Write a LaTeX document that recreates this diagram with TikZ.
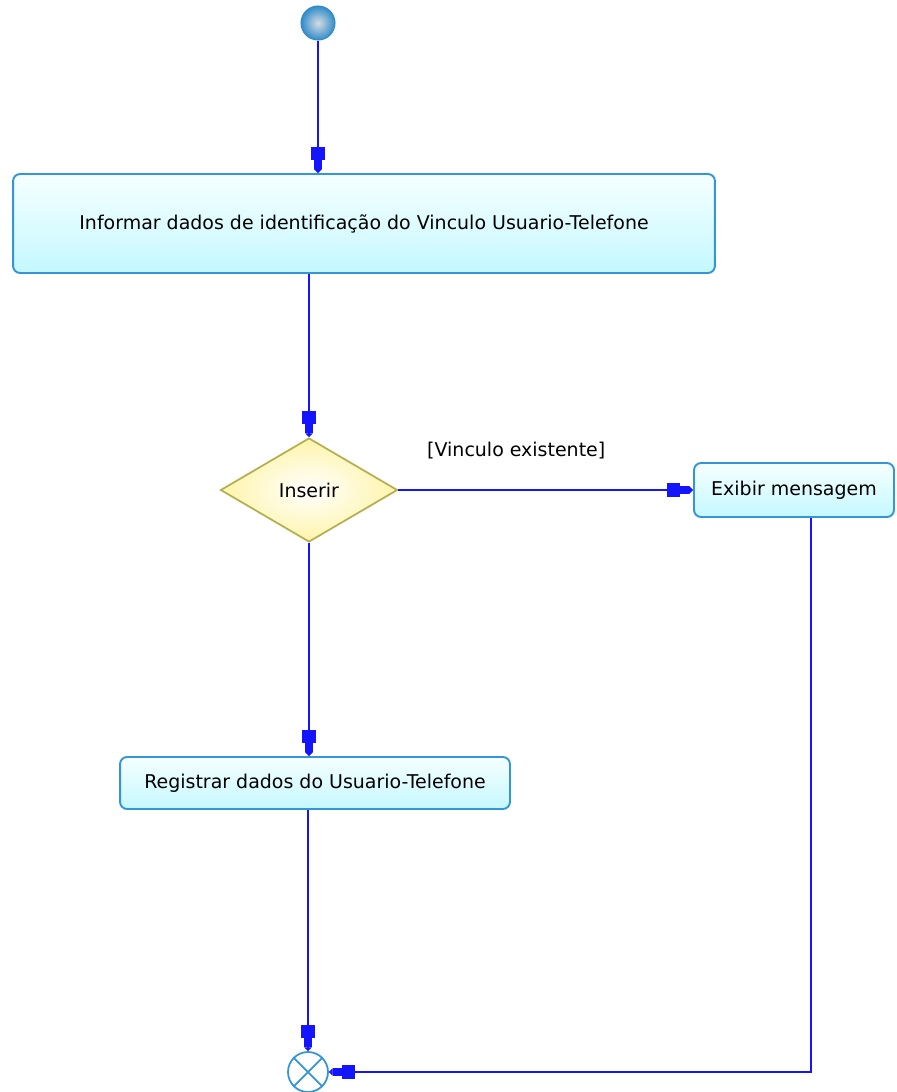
\documentclass[tikz,border=0pt]{standalone}
\usepackage{fontspec}
\setmainfont{DejaVu Sans}
\usetikzlibrary{shapes.geometric, arrows.meta, positioning}

\definecolor{linhaazul}{RGB}{20,20,255}
\definecolor{bordaazul}{RGB}{52,150,215}
\definecolor{caixatopo}{RGB}{246,255,255}
\definecolor{caixabase}{RGB}{196,248,255}
\definecolor{losangoborda}{RGB}{180,176,80}
\definecolor{losangofundo}{RGB}{255,244,170}
\definecolor{bolacentro}{RGB}{212,220,228}
\definecolor{bolaborda}{RGB}{50,140,200}

\tikzset{
  acao/.style={draw=bordaazul, line width=1.1pt, rounded corners=4pt,
    top color=caixatopo, bottom color=caixabase, inner sep=0pt,
    font=\fontsize{10.8}{12}\selectfont},
  decisao/.style={diamond, draw=losangoborda, line width=1pt,
    inner color=white, outer color=losangofundo, inner sep=0pt,
    minimum width=3.54cm, minimum height=2.08cm,
    font=\fontsize{10.8}{12}\selectfont},
  inicio/.style={circle, draw=bolaborda, line width=0.6pt, inner sep=0pt,
    minimum size=0.68cm, inner color=bolacentro, outer color=bolaborda},
  fim/.style={circle, draw=bordaazul, line width=1pt, fill=white,
    inner sep=0pt, minimum size=0.8cm},
  fluxo/.style={draw=linhaazul, line width=1.1pt,
    -{Rectangle[length=7.4pt,width=7.6pt,sep=0pt]
      Rectangle[length=5pt,width=4.4pt,sep=0pt]
      Triangle[length=2.2pt,width=4.4pt]}},
  rotulo/.style={font=\fontsize{10.8}{12}\selectfont}
}

\begin{document}
\begin{tikzpicture}[x=0.02cm, y=-0.02cm]
\useasboundingbox (0,0) rectangle (896,1092);

% nos
\node[inicio] (inicio) at (318,23) {};
\node[acao, minimum width=14.04cm, minimum height=1.98cm] (informar) at (364,223.5)
  {Informar dados de identificação do Vinculo Usuario-Telefone};
\node[decisao] (inserir) at (309,490) {Inserir};
\node[acao, minimum width=4cm, minimum height=1.08cm] (exibir) at (794,490)
  {Exibir mensagem};
\node[acao, minimum width=7.8cm, minimum height=1.04cm] (registrar) at (315,783)
  {Registrar dados do Usuario-Telefone};
\node[fim] (final) at (308,1072) {};
\draw[bordaazul, line width=1pt] (final.north west) -- (final.south east)
  (final.north east) -- (final.south west);

% fluxos
\draw[fluxo] (inicio) -- (inicio |- informar.north);
\draw[fluxo] (inserir.north |- informar.south) -- (inserir.north);
\draw[fluxo] (inserir.east) -- (exibir.west)
  node[rotulo, pos=0.4, yshift=0.78cm] {[Vinculo existente]};
\draw[fluxo] (inserir.south) -- (inserir.south |- registrar.north);
\draw[fluxo] (final |- registrar.south) -- (final);
\draw[fluxo] ([xshift=0.34cm]exibir.south) |- (final);
\end{tikzpicture}
\end{document}
